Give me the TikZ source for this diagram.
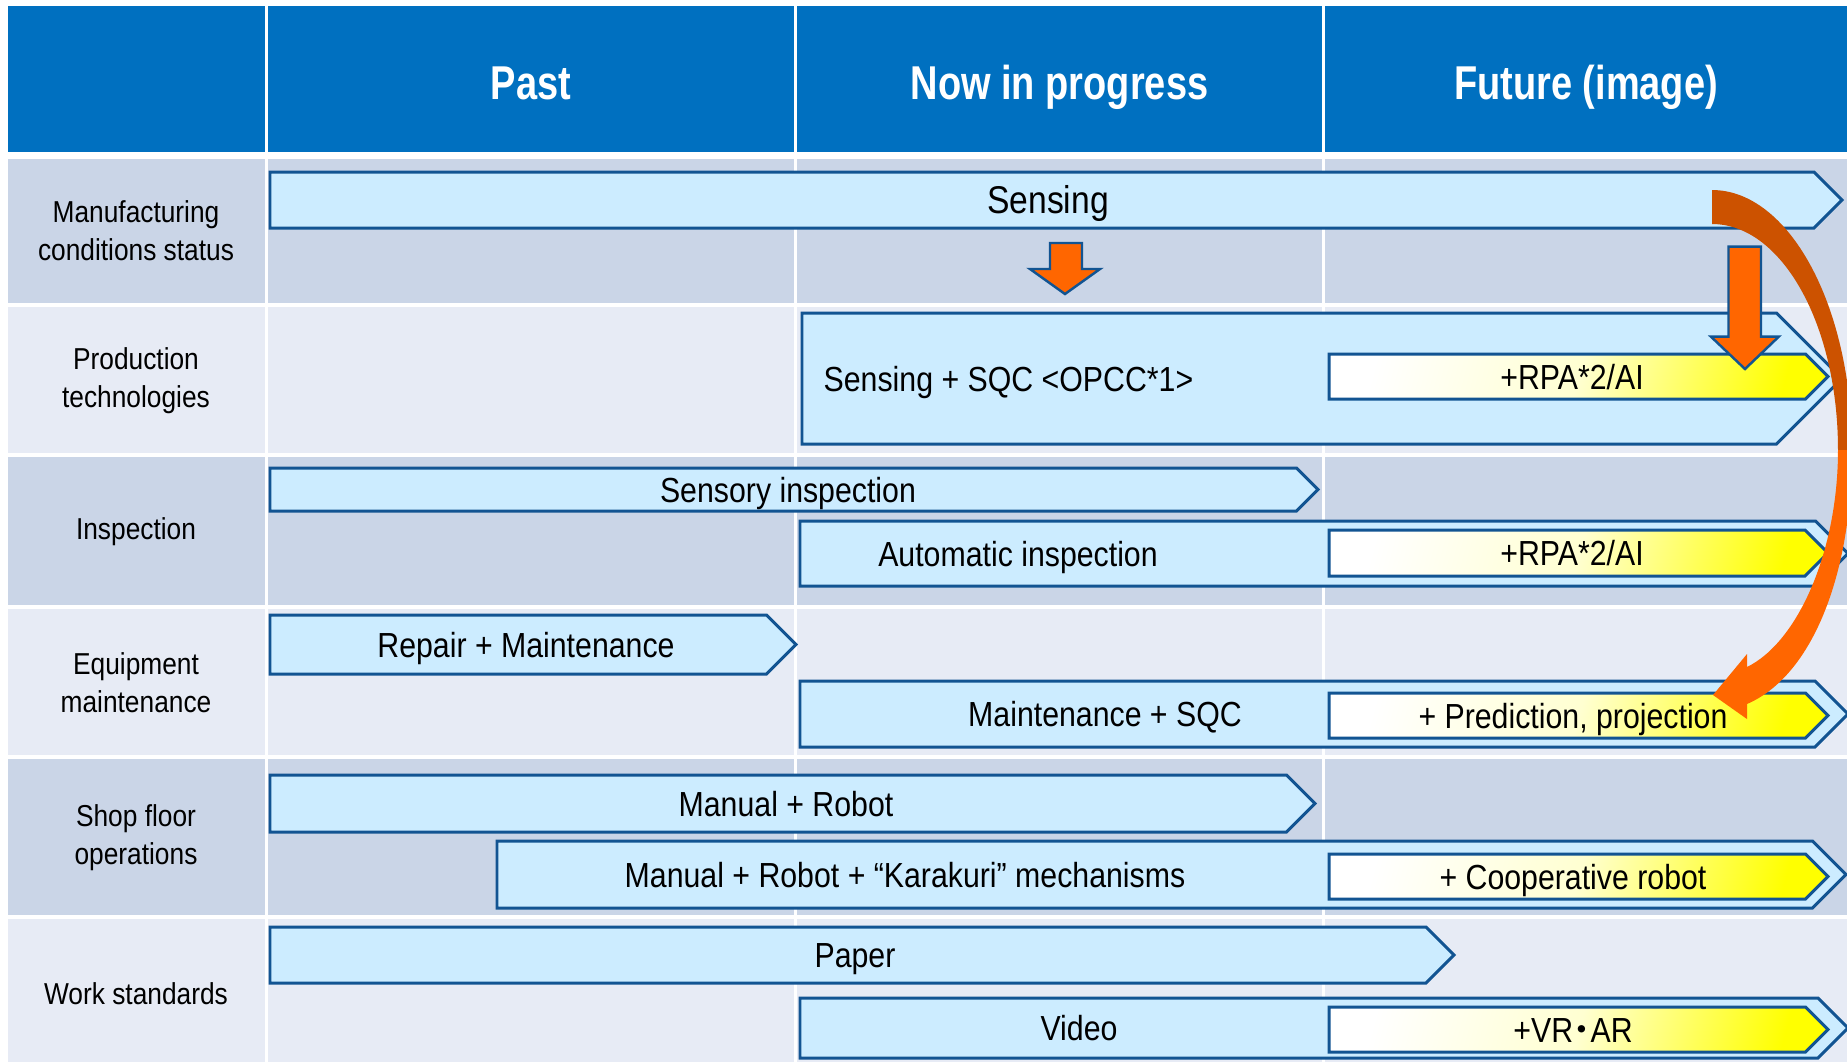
\documentclass[tikz,border=0pt]{standalone}
\usepackage{fontspec}
\setmainfont{Liberation Sans}[FakeStretch=0.87]
\newfontfamily\headfont{Liberation Sans}[FakeStretch=0.80]
\newfontfamily\cjk{Noto Sans CJK JP}
\definecolor{headblue}{RGB}{0,112,192}
\definecolor{rowdark}{RGB}{202,213,231}
\definecolor{rowlight}{RGB}{231,235,245}
\definecolor{barfill}{RGB}{204,236,255}
\definecolor{barline}{RGB}{18,84,146}
\definecolor{arroworange}{RGB}{255,102,0}
\definecolor{arrowdark}{RGB}{204,82,0}
% style, left x, top y, tip x, bottom y
\newcommand{\chevbar}[5]{%
  \draw[#1] (#2,#3) -- ({#4-(#5-#3)/2},#3) -- (#4,{(#3+#5)/2})
    -- ({#4-(#5-#3)/2},#5) -- (#2,#5) -- cycle;}
\begin{document}
\begin{tikzpicture}[x=0.01cm, y=-0.01cm,
  barbox/.style={fill=barfill, draw=barline, line width=0.85pt},
  yelbox/.style={draw=barline, line width=0.85pt, left color=white, right color=yellow, middle color=yellow!18, shading angle=75},
  arrowbox/.style={fill=arroworange, draw=barline, line width=0.7pt},
  bartext/.style={font=\fontsize{9.9}{11}\selectfont, inner sep=0pt, text height=7.1pt, text depth=0pt},
  rowlabel/.style={font=\fontsize{8.6}{10.8}\selectfont, align=center, inner sep=0pt},
  headtext/.style={font=\headfont\bfseries\fontsize{13.5}{16}\selectfont, text=white, inner sep=0pt, text height=9.7pt, text depth=0pt}]
\useasboundingbox (0,0) rectangle (1847,1062);
\clip (0,0) rectangle (1847,1062);
% table
\fill[headblue] (8,6) rectangle (1847,152);
\fill[rowdark] (8,159) rectangle (1847,303);
\fill[rowlight] (8,307) rectangle (1847,453);
\fill[rowdark] (8,457) rectangle (1847,605);
\fill[rowlight] (8,609) rectangle (1847,755);
\fill[rowdark] (8,759) rectangle (1847,915);
\fill[rowlight] (8,919) rectangle (1847,1062);
\draw[white, line width=0.85pt] (266.5,6) -- (266.5,1062);
\draw[white, line width=0.85pt] (795.5,6) -- (795.5,1062);
\draw[white, line width=0.85pt] (1323.5,6) -- (1323.5,1062);
\node[headtext] (past) at (531,82) {Past};
\node[headtext] (now) at (1059.5,82) {Now in progress};
\node[headtext] (future) at (1586,82) {Future (image)};
\node[rowlabel] (mfg) at (136,231) {Manufacturing\\conditions status};
\node[rowlabel] (prod) at (136,381) {Production\\technologies};
\node[rowlabel] (insp) at (136,532) {Inspection};
\node[rowlabel] (equip) at (136,683) {Equipment\\maintenance};
\node[rowlabel] (shop) at (136,838) {Shop floor\\operations};
\node[rowlabel] (work) at (136,994) {Work standards};
% bars
\chevbar{barbox}{270}{172}{1842}{228}
\chevbar{barbox}{802}{313}{1842}{444}
\chevbar{yelbox}{1329}{354}{1828}{399}
\chevbar{barbox}{270}{468}{1318}{511}
\chevbar{barbox}{800}{521}{1848}{586}
\chevbar{yelbox}{1329}{530}{1828}{576}
\chevbar{barbox}{270}{615}{796}{674}
\chevbar{barbox}{800}{681}{1848}{747}
\chevbar{yelbox}{1329}{693}{1828}{738}
\chevbar{barbox}{270}{775}{1315}{832}
\chevbar{barbox}{497}{841}{1846}{908}
\chevbar{yelbox}{1329}{854}{1828}{899}
\chevbar{barbox}{270}{927}{1454}{983}
\chevbar{barbox}{800}{998}{1848}{1058}
\chevbar{yelbox}{1329}{1007}{1828}{1052}
\node[bartext, font=\fontsize{11}{13}\selectfont, text height=7.9pt] (sensing) at (1048,200) {Sensing};
\node[bartext, anchor=west] (sqc) at (823,379) {Sensing + SQC <OPCC*1>};
\node[bartext] (rpa1) at (1572,376.5) {+RPA*2/AI};
\node[bartext] (sensory) at (788,489.5) {Sensory inspection};
\node[bartext] (autoinsp) at (1018,553.5) {Automatic inspection};
\node[bartext] (rpa2) at (1572,553) {+RPA*2/AI};
\node[bartext] (repair) at (526,644.5) {Repair + Maintenance};
\node[bartext] (maintsqc) at (1105,714) {Maintenance + SQC};
\node[bartext] (predict) at (1573,715.5) {+ Prediction, projection};
\node[bartext] (manrobot) at (786,803.5) {Manual + Robot};
\node[bartext] (karakuri) at (905,874.5) {Manual + Robot + “Karakuri” mechanisms};
\node[bartext] (coop) at (1573,876.5) {+ Cooperative robot};
\node[bartext] (paper) at (855,955) {Paper};
\node[bartext] (video) at (1079,1028) {Video};
\node[bartext] (vrar) at (1573,1029.5) {+VR\kern-0.25em{\cjk ・}\kern-0.25em AR};
% orange arrows
\draw[arrowbox] (1050,243) -- (1082,243) -- (1082,269) -- (1100,269) -- (1065,294)
  -- (1030,269) -- (1050,269) -- cycle;
\draw[arrowbox] (1728.5,246.7) -- (1761,246.7) -- (1761,336.7) -- (1778.7,336.7)
  -- (1745,369) -- (1711,336.7) -- (1728.5,336.7) -- cycle;
\fill[arrowdark] (1712,190) .. controls (1789,190) and (1852,306) .. (1852,450)
  -- (1838,450) .. controls (1838,325) and (1782,224) .. (1712,224) -- cycle;
\fill[arroworange] (1852,450) .. controls (1852,575) and (1812,676) .. (1747,704)
  -- (1747,719) -- (1713,695) -- (1747,654) -- (1747,667)
  .. controls (1798,642) and (1838,551) .. (1838,450) -- cycle;
\end{tikzpicture}
\end{document}
